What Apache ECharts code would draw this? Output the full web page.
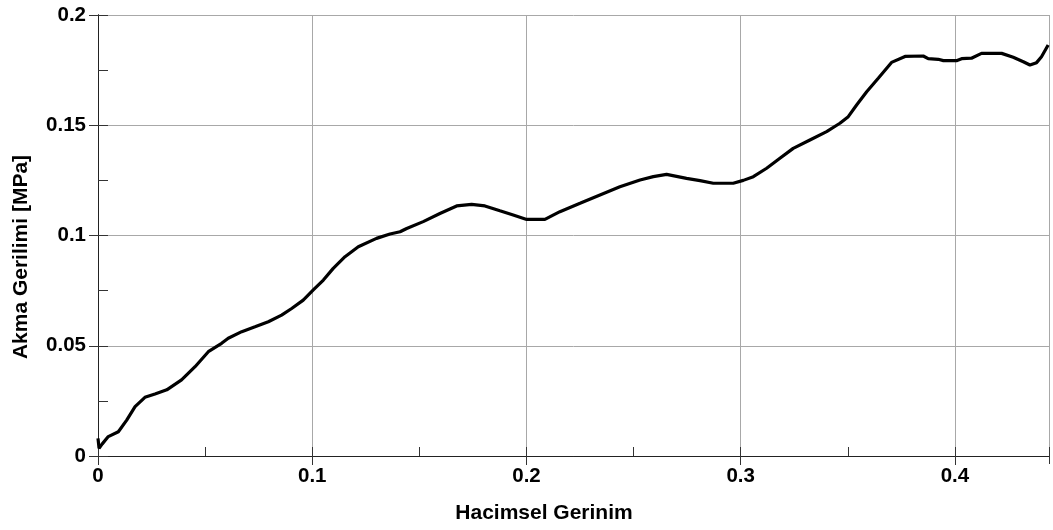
<!DOCTYPE html>
<html>
<head>
<meta charset="utf-8">
<script src="https://cdn.jsdelivr.net/npm/echarts@6/dist/echarts.min.js"></script>
<style>
html,body{margin:0;padding:0;background:#fff;}
#chart{width:1053px;height:530px;}
</style>
</head>
<body>
<div id="chart"></div>
<script>
const strain = [0, 0.0005, 0.002, 0.0048, 0.0095, 0.0134, 0.0173, 0.0219, 0.0266, 0.0321, 0.039, 0.0453, 0.0515, 0.0577, 0.0608, 0.0671, 0.0733, 0.0795, 0.0857, 0.0904, 0.0958, 0.1005, 0.1052, 0.1098, 0.1153, 0.1215, 0.130, 0.1363, 0.141, 0.1441, 0.1518, 0.1596, 0.1674, 0.1744, 0.1806, 0.1876, 0.1938, 0.2001, 0.2086, 0.2156, 0.225, 0.2343, 0.2436, 0.253, 0.2592, 0.2654, 0.2747, 0.281, 0.2872, 0.2965, 0.3012, 0.3059, 0.3121, 0.3183, 0.3245, 0.3323, 0.3401, 0.3463, 0.3502, 0.3541, 0.3588, 0.3642, 0.3704, 0.3767, 0.3852, 0.3875, 0.3922, 0.3946, 0.4007, 0.4031, 0.4077, 0.4124, 0.4218, 0.4272, 0.4319, 0.435, 0.4381, 0.4404, 0.4435];
const stress = [0.008, 0.0035, 0.0055, 0.0088, 0.011, 0.0163, 0.0224, 0.0266, 0.0281, 0.030, 0.0345, 0.0405, 0.0473, 0.0511, 0.0534, 0.0564, 0.0586, 0.0609, 0.0639, 0.0669, 0.0707, 0.0753, 0.0798, 0.0851, 0.0904, 0.0949, 0.0987, 0.1007, 0.1017, 0.1032, 0.1063, 0.1100, 0.1134, 0.1141, 0.1134, 0.1112, 0.1093, 0.1073, 0.1073, 0.1108, 0.1146, 0.1184, 0.1221, 0.1252, 0.1267, 0.1277, 0.1259, 0.1249, 0.1237, 0.1237, 0.1250, 0.1267, 0.1305, 0.1350, 0.1395, 0.1433, 0.1471, 0.1509, 0.1539, 0.1592, 0.1652, 0.1713, 0.1785, 0.1812, 0.1814, 0.1802, 0.1799, 0.1793, 0.1793, 0.1802, 0.1804, 0.1826, 0.1826, 0.1808, 0.1788, 0.1773, 0.1784, 0.1811, 0.1864];
const xTicks = [0, 0.1, 0.2, 0.3, 0.4];
const xName = 'Hacimsel Gerinim';
const yName = 'Akma Gerilimi [MPa]';
const xMin = 0, xMax = 0.4439, xStep = 0.1;
const yMin = 0, yMax = 0.2, yStep = 0.05;

const data = strain.map((x, i) => [x, stress[i]]);
const FONT = '"Liberation Sans", Arial, sans-serif';
const axisCol = '#333';
const gridCol = '#a8a8a8';
const labelStyle = {show: true, color: '#000', fontSize: 20.5, fontWeight: 'bold', fontFamily: FONT};

const chart = echarts.init(document.getElementById('chart'), null, {renderer: 'canvas'});
chart.setOption({
  animation: false,
  backgroundColor: '#fff',
  grid: {left: 98, right: 4, top: 15, bottom: 74, containLabel: false},
  xAxis: [
    {type: 'value', position: 'bottom', min: xMin, max: xMax, interval: xStep / 2,
     axisLine: {show: true, lineStyle: {color: axisCol, width: 1}},
     axisTick: {show: true, inside: true, length: 9, lineStyle: {color: axisCol}},
     axisLabel: {show: false}, splitLine: {show: false}},
    {type: 'value', position: 'bottom', min: xMin, max: xMax, interval: xStep,
     axisLine: {show: true, lineStyle: {color: axisCol, width: 1}},
     axisTick: {show: true, inside: false, length: 9, customValues: xTicks, lineStyle: {color: axisCol}},
     axisLabel: Object.assign({margin: 10, showMaxLabel: false}, labelStyle),
     splitLine: {show: false}},
    {type: 'value', position: 'top', min: xMin, max: xMax, interval: xStep,
     axisLine: {show: true, lineStyle: {color: '#222', width: 1}},
     axisTick: {show: true, inside: true, length: 8, lineStyle: {color: axisCol}},
     axisLabel: {show: false},
     splitLine: {show: true, lineStyle: {color: gridCol, width: 1}}}
  ],
  yAxis: [
    {type: 'value', position: 'left', min: yMin, max: yMax, interval: yStep / 2,
     axisLine: {show: true, lineStyle: {color: axisCol, width: 1}},
     axisTick: {show: true, inside: true, length: 10, lineStyle: {color: axisCol}},
     axisLabel: {show: false}, splitLine: {show: false}},
    {type: 'value', position: 'left', min: yMin, max: yMax, interval: yStep,
     axisLine: {show: true, lineStyle: {color: axisCol, width: 1}},
     axisTick: {show: true, inside: false, length: 8, lineStyle: {color: axisCol}},
     axisLabel: Object.assign({margin: 12}, labelStyle),
     splitLine: {show: true, lineStyle: {color: gridCol, width: 1}}},
    {type: 'value', position: 'right', min: yMin, max: yMax, interval: yStep,
     axisLine: {show: true, lineStyle: {color: '#222', width: 1}},
     axisTick: {show: true, inside: true, length: 9, lineStyle: {color: axisCol}},
     axisLabel: {show: false}, splitLine: {show: false}}
  ],
  graphic: [
    {type: 'text', x: 544, y: 513, silent: true,
     style: {text: xName, fill: '#000', fontSize: 21, fontWeight: 'bold', fontFamily: FONT, align: 'center', verticalAlign: 'middle'}},
    {type: 'text', x: 21, y: 257, rotation: Math.PI / 2, silent: true,
     style: {text: yName, fill: '#000', fontSize: 21, fontWeight: 'bold', fontFamily: FONT, align: 'center', verticalAlign: 'middle'}}
  ],
  series: [{
    type: 'line', xAxisIndex: 1, yAxisIndex: 1, data: data,
    showSymbol: false, smooth: false,
    lineStyle: {color: '#000', width: 3.2},
    z: 5
  }]
});
</script>
</body>
</html>
